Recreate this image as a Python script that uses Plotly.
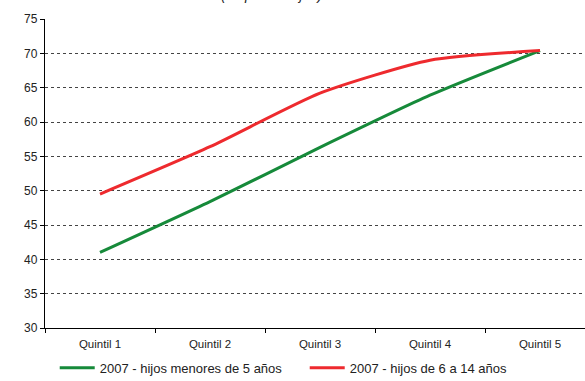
import plotly.graph_objects as go

# Categories and series values
quintiles = ["Quintil 1", "Quintil 2", "Quintil 3", "Quintil 4", "Quintil 5"]
menores_5 = [41.0, 48.4, 56.3, 63.9, 70.4]
de_6_a_14 = [49.5, 56.4, 64.2, 69.0, 70.4]
y_ticks = [30, 35, 40, 45, 50, 55, 60, 65, 70, 75]

series_names = ["2007 - hijos menores de 5 años", "2007 - hijos de 6 a 14 años"]
series_colors = ["#168A3A", "#EE2A2E"]

fig = go.Figure()
for name, vals, color in zip(series_names, [menores_5, de_6_a_14], series_colors):
    fig.add_trace(go.Scatter(
        x=quintiles, y=vals, name=name, mode="lines",
        line=dict(color=color, width=3, shape="spline", smoothing=0.6),
    ))

font_family = "Liberation Sans, Arial, sans-serif"

fig.update_layout(
    width=585, height=381,
    margin=dict(l=45, r=0, t=19, b=53, autoexpand=False),
    paper_bgcolor="white", plot_bgcolor="white",
    font=dict(family=font_family, size=11, color="#222222"),
    showlegend=True,
    legend=dict(
        orientation="h", x=0.018, xanchor="left", y=-0.129, yanchor="middle",
        font=dict(size=13, color="#222222"), entrywidth=200,
        itemwidth=35, tracegroupgap=0, bgcolor="rgba(0,0,0,0)",
    ),
    xaxis=dict(
        type="category", range=[-0.5, 4.409],
        showline=True, linecolor="black", linewidth=1.3,
        ticks="outside", tickson="boundaries", ticklen=4, tickcolor="black",
        showgrid=False, tickfont=dict(size=11.5), ticklabelstandoff=5,
        fixedrange=True,
    ),
    yaxis=dict(
        range=[30, 75], tickvals=y_ticks,
        showline=True, linecolor="black", linewidth=1.3,
        ticks="outside", ticklen=4, tickcolor="black",
        showgrid=True, gridcolor="#444444", gridwidth=1, griddash="3px,3px",
        zeroline=False, tickfont=dict(size=12), fixedrange=True,
    ),
    annotations=[dict(
        text="<i>(en porcentajes)</i>", xref="paper", yref="paper",
        x=0.42, y=1.046, xanchor="center", yanchor="bottom", showarrow=False,
        font=dict(size=14, color="#222222", family=font_family),
    )],
)

fig.write_html("out.html")
